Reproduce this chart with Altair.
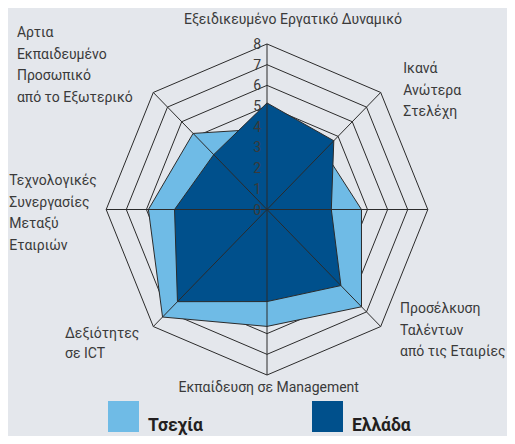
import altair as alt
import pandas as pd

# ---------------- data ----------------
category_lines = [
    ["Εξειδικευμένο Εργατικό Δυναμικό"],
    ["Ικανά", "Ανώτερα", "Στελέχη"],
    [],
    ["Προσέλκυση", "Ταλέντων", "από τις Εταιρίες"],
    ["Εκπαίδευση σε Management"],
    ["Δεξιότητες", "σε ICT"],
    ["Τεχνολογικές", "Συνεργασίες", "Μεταξύ", "Εταιριών"],
    ["Αρτια", "Εκπαιδευμένο", "Προσωπικό", "από το Εξωτερικό"],
]
categories = [" ".join(l) for l in category_lines]
series_names = ["Τσεχία", "Ελλάδα"]
czech = [3.9, 4.0, 4.7, 6.65, 5.65, 7.35, 5.9, 5.2]
greece = [5.15, 4.7, 3.2, 5.2, 4.45, 6.3, 4.6, 3.75]
tick_values = [0, 1, 2, 3, 4, 5, 6, 7, 8]
tick_labels = ["0", "1", "2", "3", "4", "5", "6", "7", "8"]

# ---------------- layout / style ----------------
W, H = 499, 428
CX, CY = 259.0, 201.5          # centre of the radar in chart pixels
UX, UY = 20.1, 20.69           # pixels per unit
FONT = "Roboto"
TXT = "#3a3a3a"
LIGHT, DARK = "#6fbbe6", "#00508c"
BG = "#e4e7ec"

# label anchors in page pixels: (x, first baseline, line step, align)
label_layout = [
    (293.0, 23.5, 21.4, "center"),
    (403.3, 73.3, 21.4, "left"),
    None,
    (400.0, 313.3, 21.4, "left"),
    (268.7, 391.5, 21.4, "center"),
    (65.0, 337.7, 20.0, "left"),
    (9.3, 185.3, 21.4, "left"),
    (16.9, 37.3, 21.5, "left"),
]

n = len(categories)
xs = alt.Scale(domain=[-CX / UX, (W - CX) / UX], nice=False, zero=False)
ys = alt.Scale(domain=[-(H - CY) / UY, CY / UY], nice=False, zero=False)

vals = pd.DataFrame({
    "idx": list(range(n)) * 2,
    "country": [series_names[0]] * n + [series_names[1]] * n,
    "value": czech + greece,
})
rings = pd.DataFrame([(lv, i) for lv in tick_values[1:] for i in range(n)],
                     columns=["level", "idx"])
spokes = pd.DataFrame({"idx": list(range(n)), "r": [max(tick_values)] * n})
ticks = pd.DataFrame({"t": tick_labels, "v": tick_values, "z": [0] * len(tick_values)})

rows = []
for i, lines in enumerate(category_lines):
    lay = label_layout[i]
    if lay is None:
        continue
    x0, b0, step, al = lay
    for k, line in enumerate(lines):
        rows.append({
            "text": line,
            "lx": (x0 - 8 - CX) / UX,
            "ly": (CY - (b0 + k * step - 8)) / UY,
            "align": al,
        })
labels = pd.DataFrame(rows)

X = lambda f: alt.X(f, type="quantitative", scale=xs, axis=None)
Y = lambda f: alt.Y(f, type="quantitative", scale=ys, axis=None)
ANG = "datum.idx * 2 * PI / %d" % n

ring_layer = alt.Chart(rings).transform_calculate(ang=ANG).transform_calculate(
    px="datum.level * sin(datum.ang)", py="datum.level * cos(datum.ang)"
).mark_line(interpolate="linear-closed", stroke="#2b2b2b", strokeWidth=1).encode(
    x=X("px"), y=Y("py"), detail="level:N", order="idx:Q"
)

base = alt.Chart(vals).transform_calculate(ang=ANG).transform_calculate(
    px="datum.value * sin(datum.ang)", py="datum.value * cos(datum.ang)"
)
color = alt.Color(
    "country:N",
    scale=alt.Scale(domain=series_names, range=[LIGHT, DARK]),
    legend=alt.Legend(
        orient="none", legendX=100, legendY=393, direction="horizontal",
        title=None, symbolType="square", symbolSize=961, symbolStrokeWidth=0,
        symbolOpacity=1, labelFont=FONT, labelFontSize=17.5, labelFontWeight="bold",
        labelColor="#231f20", labelOffset=9, columnPadding=109, padding=0,
        labelBaseline="top",
    ),
)
polys = [
    base.transform_filter(alt.datum.country == s).mark_line(
        filled=True, interpolate="linear-closed", stroke="#2b2b2b", strokeWidth=1, opacity=1
    ).encode(x=X("px"), y=Y("py"), order="idx:Q", color=color)
    for s in series_names
]

spoke_layer = alt.Chart(spokes).transform_calculate(ang=ANG).transform_calculate(
    x0="0", y0="0", px="datum.r * sin(datum.ang)", py="datum.r * cos(datum.ang)"
).mark_rule(stroke="#2b2b2b", strokeWidth=1).encode(
    x=X("x0"), y=Y("y0"), x2="px:Q", y2="py:Q"
)

tick_layer = alt.Chart(ticks).mark_text(
    align="right", baseline="middle", dx=-6, dy=1, font=FONT, fontSize=14, color=TXT
).encode(x=X("z"), y=Y("v"), text="t:N")

label_layers = [
    alt.Chart(labels).transform_filter(alt.datum.align == al).mark_text(
        align=al, baseline="alphabetic", font=FONT, fontSize=14, color=TXT
    ).encode(x=X("lx"), y=Y("ly"), text="text:N")
    for al in ["left", "center"]
]

chart = alt.layer(
    ring_layer, *polys, spoke_layer, tick_layer, *label_layers
).properties(
    width=W, height=H, background=BG, padding=0,
    autosize=alt.AutoSizeParams(type="none"),
).configure_view(stroke=None)

chart.save("out.html", embed_options={"renderer": "svg", "actions": False})
